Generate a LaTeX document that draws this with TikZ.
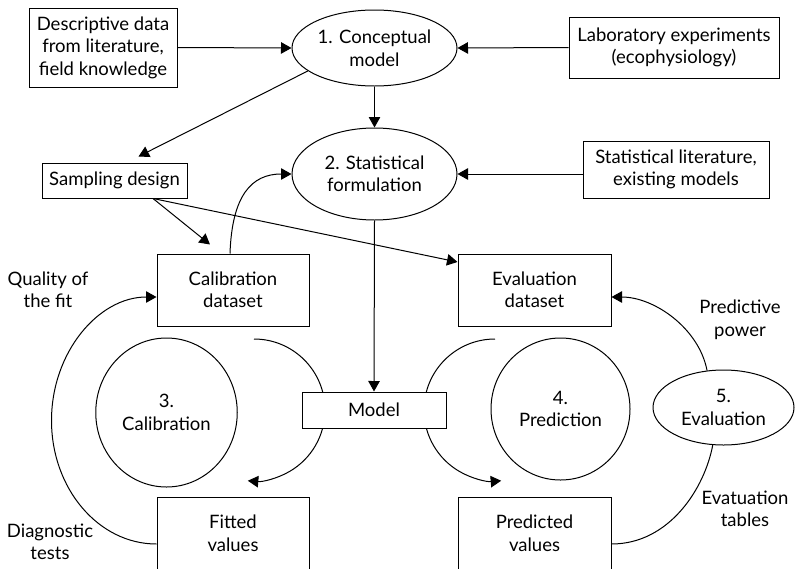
\documentclass[tikz,border=0pt]{standalone}
\usepackage{fontspec}
\setmainfont{Lato}
\usetikzlibrary{shapes.geometric,arrows.meta,calc}
\begin{document}
\begin{tikzpicture}[x=1pt,y=-1pt,
  line width=1pt,
  every node/.style={font=\fontsize{18.5}{22.5}\selectfont, align=center, inner sep=0pt},
  bx/.style 2 args={draw, fill=white, rectangle, minimum width=#1pt, minimum height=#2pt},
  ell/.style 2 args={draw, fill=white, ellipse, minimum width=#1pt, minimum height=#2pt},
  lbl/.style={},
  arr/.style={-{Triangle[length=10.5pt,width=11.5pt]}}]
\useasboundingbox (0,0) rectangle (795,568);
\clip (0,0) rectangle (795,568);

% arcs passing behind the model box
\coordinate (la) at (254,339);
\coordinate (ra) at (495,339);
\draw[arr] (la) arc[start angle=-90, end angle=95, radius=71];
\draw[arr] (ra) arc[start angle=270, end angle=85, radius=71];

% nodes
\node[bx={148}{79}] (desc) at (103,47.5) {Descriptive data\\from literature,\\field knowledge};
\node[ell={165}{76}] (e1) at (374.5,48) {1. Conceptual\\model};
\node[bx={210}{61}] (lab) at (674,47.5) {Laboratory experiments\\(ecophysiology)};
\node[bx={145}{35}] (samp) at (114.5,180.5) {Sampling design};
\node[ell={165}{92}] (e2) at (374.5,174) {2. Statistical\\formulation};
\node[bx={186}{57}] (stat) at (676,169.5) {Statistical literature,\\existing models};
\node[bx={152}{72}] (calib) at (233,290) {Calibration\\dataset};
\node[bx={153}{72}] (eval) at (534.5,290) {Evaluation\\dataset};
\node[ell={141.5}{149}] (c3) at (166.5,412.5) {3.\\Calibration};
\node[bx={144}{36}] (model) at (374,410) {Model};
\node[ell={139}{142}] (c4) at (560.5,409) {4.\\Prediction};
\node[ell={141}{75}] (e5) at (723.5,407.5) {5.\\Evaluation};
\node[bx={152}{73}] (fitted) at (233,533.5) {Fitted\\values};
\node[bx={153}{73}] (pred) at (534.5,533.5) {Predicted\\values};

% labels
\node[lbl] (q) at (48,290) {Quality of\\the fit};
\node[lbl] (d) at (50,542) {Diagnostic\\tests};
\node[lbl] (pp) at (740,320) {Predictive\\power};
\node[lbl] (et) at (745,509) {Evatuation\\tables};

% connectors
\draw[arr] (desc.east) -- (e1.west);
\draw[arr] (lab.west) -- (e1.east);
\draw[arr] (e1.south) -- (e2.north);
\draw[arr] (e1.199) -- ([xshift=24pt,yshift=6pt]samp.north);
\draw[arr] (stat.west |- e2.east) -- (e2.east);
\draw[arr] ([xshift=38.5pt]samp.south) -- ([xshift=-23pt,yshift=9pt]calib.north);
\draw[arr] ([xshift=38.5pt]samp.south) -- ([yshift=28pt]eval.west);
\draw[arr] ([xshift=-3pt]calib.north) .. controls +(2,-58) and +(-40,0) .. (e2.west);
\draw[arr] (e2.south) -- (model.north);
\draw[arr] ([yshift=-10.5pt]fitted.west) arc[start angle=90, end angle=270, x radius=105, y radius=123.5];
\draw[arr] (e5.114) .. controls +(-8,-42) and +(43,0) .. ([yshift=-7pt]eval.east);
\draw ([yshift=-10.5pt]pred.east) .. controls +(58,0) and +(-8,43) .. (e5.254);
\end{tikzpicture}
\end{document}
